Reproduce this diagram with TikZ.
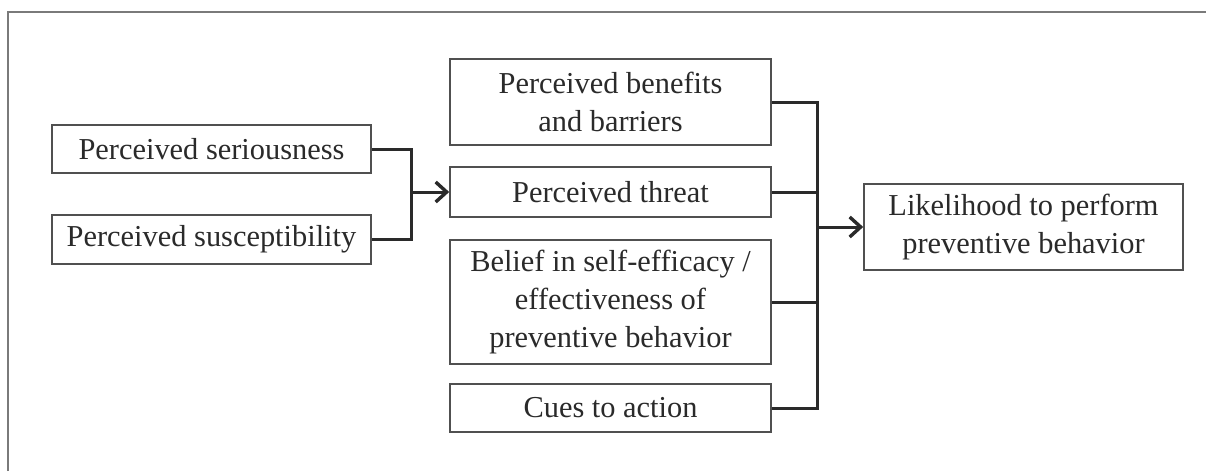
\documentclass[tikz,border=0pt]{standalone}
\usepackage{fontspec}
\setmainfont{Liberation Serif}
\usetikzlibrary{arrows.meta}
\definecolor{ink}{HTML}{2A2A2A}
\definecolor{boxline}{HTML}{505050}
\definecolor{framegray}{HTML}{7A7A7A}
\begin{document}
\begin{tikzpicture}[x=1pt,y=-1pt,
  factor/.style={draw=boxline,line width=1.6pt,inner sep=0pt,align=center,
    text=ink,font=\fontsize{30.4}{38}\selectfont},
  link/.style={draw=ink,line width=3pt},
  flow/.style={link,-{Straight Barb[length=11pt,width=20pt,line width=3.4pt]}}]
\useasboundingbox (0,0) rectangle (1206,471);
\fill[white] (0,0) rectangle (1206,471);
% surrounding frame (left and top edges)
\draw[framegray,line width=2pt] (8,471) -- (8,12) -- (1206,12);

% individual perceptions
\node[factor,minimum width=319pt,minimum height=48pt] (ser) at (211.5,149) {Perceived seriousness};
\node[factor,minimum width=319pt,minimum height=49pt] (sus) at (211.5,239.5) {Perceived susceptibility};

% modifying factors
\node[factor,minimum width=321pt,minimum height=86pt] (ben) at (610.5,102) {Perceived benefits\\and barriers};
\node[factor,minimum width=321pt,minimum height=50pt] (thr) at (610.5,192) {Perceived threat};
\node[factor,minimum width=321pt,minimum height=124pt] (bel) at (610.5,302) {Belief in self-efficacy /\\effectiveness of\\preventive behavior};
\node[factor,minimum width=321pt,minimum height=48pt] (cue) at (610.5,408) {Cues to action};

% outcome
\node[factor,minimum width=319pt,minimum height=86pt] (lik) at (1023.5,227) {Likelihood to perform\\preventive behavior};

% junction points
\coordinate (jn) at (411,192);
\coordinate (bus) at (817,227);

% perceptions combine into perceived threat
\draw[link] (ser.east) -| (jn) |- (sus.east);
\draw[flow] (jn) -- (thr.west);

% factors combine into likelihood of action
\draw[link] (ben.east) -| (bus) |- (cue.east);
\draw[link] (thr.east) -- (thr.east -| bus);
\draw[link] (bel.east) -- (bel.east -| bus);
\draw[flow] (bus) -- (lik.west);
\end{tikzpicture}
\end{document}
